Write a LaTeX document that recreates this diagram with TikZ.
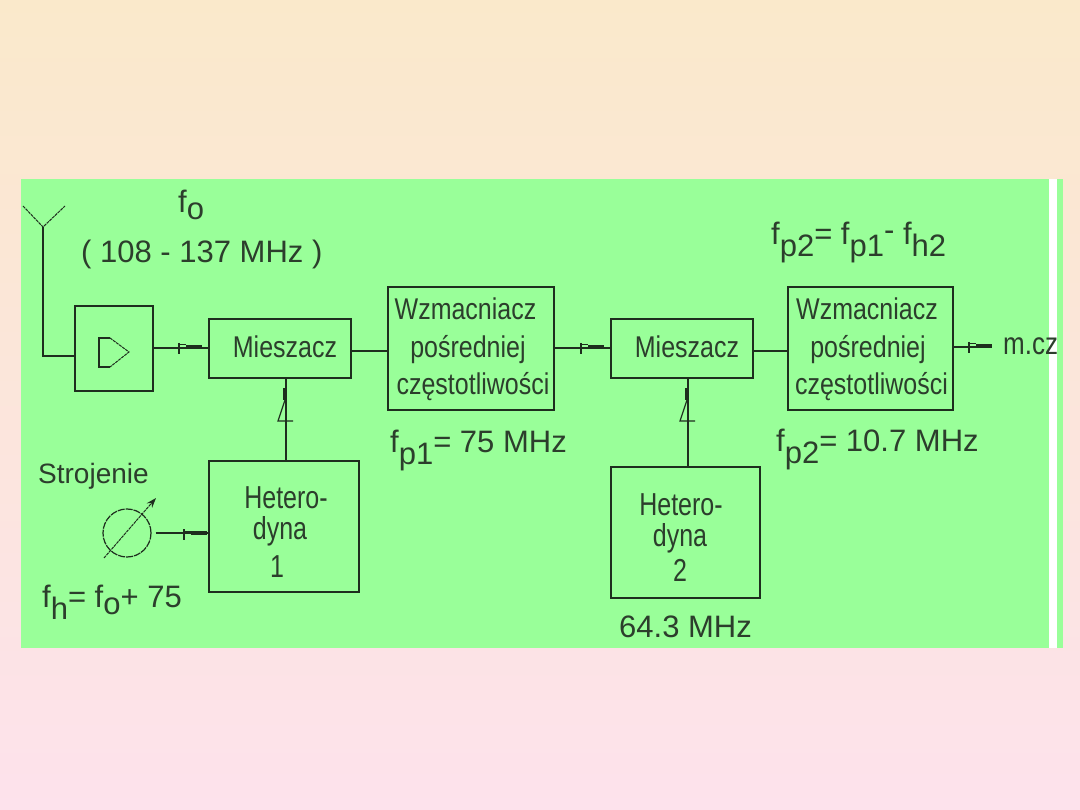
\documentclass[tikz,border=0pt]{standalone}
\usepackage{fontspec}
\setmainfont{Liberation Sans}
\usetikzlibrary{arrows.meta}
\definecolor{ink}{HTML}{1E2E1E}
\definecolor{lettering}{HTML}{2C3E2C}
\definecolor{panel}{HTML}{99FF99}
\definecolor{wash top}{RGB}{250,233,203}
\definecolor{wash bottom}{RGB}{253,226,236}
% subscripts keep the body size and only drop below the baseline
\newcommand{\sbs}[1]{\raisebox{-12pt}{#1}}
\newcommand{\sbo}[1]{\raisebox{-7pt}{#1}}
% block lettering: stretched upright; #1 is a sideways nudge for the line
\newcommand{\tall}[2][0pt]{\hspace*{#1}\raisebox{-4.5pt}[15pt][6pt]{\scalebox{1}[1.2]{#2}}}
\newcommand{\taller}[2][0pt]{\hspace*{#1}\raisebox{-11.5pt}[15pt][6pt]{\scalebox{1}[1.27]{#2}}}
\tikzset{
  x=1pt,y=-1pt,
  wire/.style={draw=ink,line width=1.8pt},
  thin wire/.style={draw=ink,line width=1pt,dash pattern=on 3pt off .8pt},
  block/.style={draw=ink,line width=1.8pt,rectangle,inner sep=0pt,align=center,text=lettering},
  boxtext/.style={font=\fontsize{25}{37.5}\selectfont},
  dynatext/.style={font=\fontsize{25}{31}\selectfont},
  caption/.style={text=lettering,inner sep=0pt,anchor=base west,font=\fontsize{31}{36}\selectfont},
  tag/.style={text=lettering,inner sep=0pt,anchor=base west,font=\fontsize{28}{32}\selectfont},
  hmark/.pic={
    \draw[ink,line width=1.2pt] (0,-5) -- (0,6);
    \draw[ink,line width=1pt] (0,-3) -- (7,-3);
    \draw[ink,line width=3.4pt] (7,-1) -- (23,-1);
  },
  vmark/.pic={
    \draw[ink,line width=3.4pt] (-1,0) -- (-1,12);
    \draw[ink,line width=1.2pt] (-1,12) -- (-8,33) -- (7,33);
  },
}
\begin{document}
\begin{tikzpicture}
\useasboundingbox (0,0) rectangle (1080,810);
% backdrop and panel
\shade[top color=wash top,bottom color=wash bottom] (0,0) rectangle (1080,810);
\fill[panel] (21,179.5) rectangle (1063,647.5);
\fill[white] (1049,179.5) rectangle (1057,647.5);

% blocks
\node[block,minimum width=78pt,minimum height=85pt] (amp) at (114,348.5) {};
\node[block,boxtext,minimum width=142pt,minimum height=59pt] (mixa) at (280,348.5) {\tall[10pt]{Mieszacz}};
\node[block,boxtext,minimum width=166pt,minimum height=123pt] (ifa) at (471,348.5)
  {\tall[-11pt]{Wzmacniacz}\\\tall[-6pt]{pośredniej}\\\tall[4pt]{częstotliwości}};
\node[block,boxtext,minimum width=142pt,minimum height=59pt] (mixb) at (682,348.5) {\tall[10pt]{Mieszacz}};
\node[block,boxtext,minimum width=165pt,minimum height=123pt] (ifb) at (870.5,348.5)
  {\tall[-7pt]{Wzmacniacz}\\\tall[-5pt]{pośredniej}\\\tall[2pt]{częstotliwości}};
\node[block,dynatext,minimum width=150pt,minimum height=131pt] (heta) at (284,526.5)
  {\taller[4pt]{Hetero-}\\\taller[-8pt]{dyna}\\[7pt]\taller[-14pt]{1}};
\node[block,dynatext,minimum width=149pt,minimum height=131pt] (hetb) at (685.5,532.5)
  {\taller[-9pt]{Hetero-}\\\taller[-11pt]{dyna}\\[4pt]\taller[-11pt]{2}};

% amplifier symbol inside its block
\draw[ink,line width=1.2pt] (110,338) -- (99,338) -- (99,367) -- (110,367);
\draw[thin wire] (110,338) -- (129,352) -- (110,367);

% antenna
\coordinate (feedpoint) at (43,227);
\draw[thin wire] (23,206) -- (feedpoint) -- (65,206);
\draw[wire] (feedpoint) |- ([yshift=-7.5pt]amp.west);

% tuning dial
\node[draw=ink,line width=1.2pt,dash pattern=on 7pt off 1pt,circle,minimum size=48pt,inner sep=0pt] (dial) at (127,533) {};
\draw[thin wire,-{Stealth[length=10pt,width=7pt]}] (104,558) -- (156,498);

% signal path
\coordinate (outend) at (991,347);
\coordinate (feeda) at (286,420);
\coordinate (feedb) at (688,420);
\draw[wire] ([yshift=.5pt]amp.east) -- ([yshift=.5pt]mixa.west);
\draw[wire] ([yshift=-2.5pt]mixa.east) -- ([yshift=-2.5pt]ifa.west);
\draw[wire] ([yshift=.5pt]ifa.east) -- ([yshift=.5pt]mixb.west);
\draw[wire] ([yshift=-2.5pt]mixb.east) -- ([yshift=-2.5pt]ifb.west);
\draw[wire] (ifb.east |- outend) -- (outend);
\draw[wire] (heta.north -| feeda) -- (mixa.south -| feeda);
\draw[wire] (hetb.north -| feedb) -- (mixb.south -| feedb);
\draw[wire] ([xshift=4pt]dial.east) -- (heta.west |- dial);

% direction marks on the wires
\pic at (179,348) {hmark};
\pic at (581,348) {hmark};
\pic at (969,347) {hmark};
\pic at (184,534) {hmark};
\pic at (286,388) {vmark};
\pic at (688,388) {vmark};

% labels
\node[caption] (fo) at (178,213) {f\sbo{o}};
\node[caption] (range) at (81,263) {( 108 - 137 MHz )};
\node[caption] (fpeq) at (771,245) {f\sbs{p2}= f\sbs{p1}\raisebox{4pt}{-} f\sbs{h2}};
\node[caption] (fpa) at (390,453) {f\sbs{p1}= 75 MHz};
\node[caption] (fpb) at (776,452) {f\sbs{p2}= 10.7 MHz};
\node[tag] (tune) at (38,483) {Strojenie};
\node[caption] (fh) at (42,607) {f\sbs{h}= f\sbo{o}+ 75};
\node[caption] (lo) at (619,637) {64.3 MHz};
\node[tag,font=\fontsize{26}{30}\selectfont] (out) at (1003,355) {\scalebox{1}[1.2]{m.cz}};
\end{tikzpicture}
\end{document}
